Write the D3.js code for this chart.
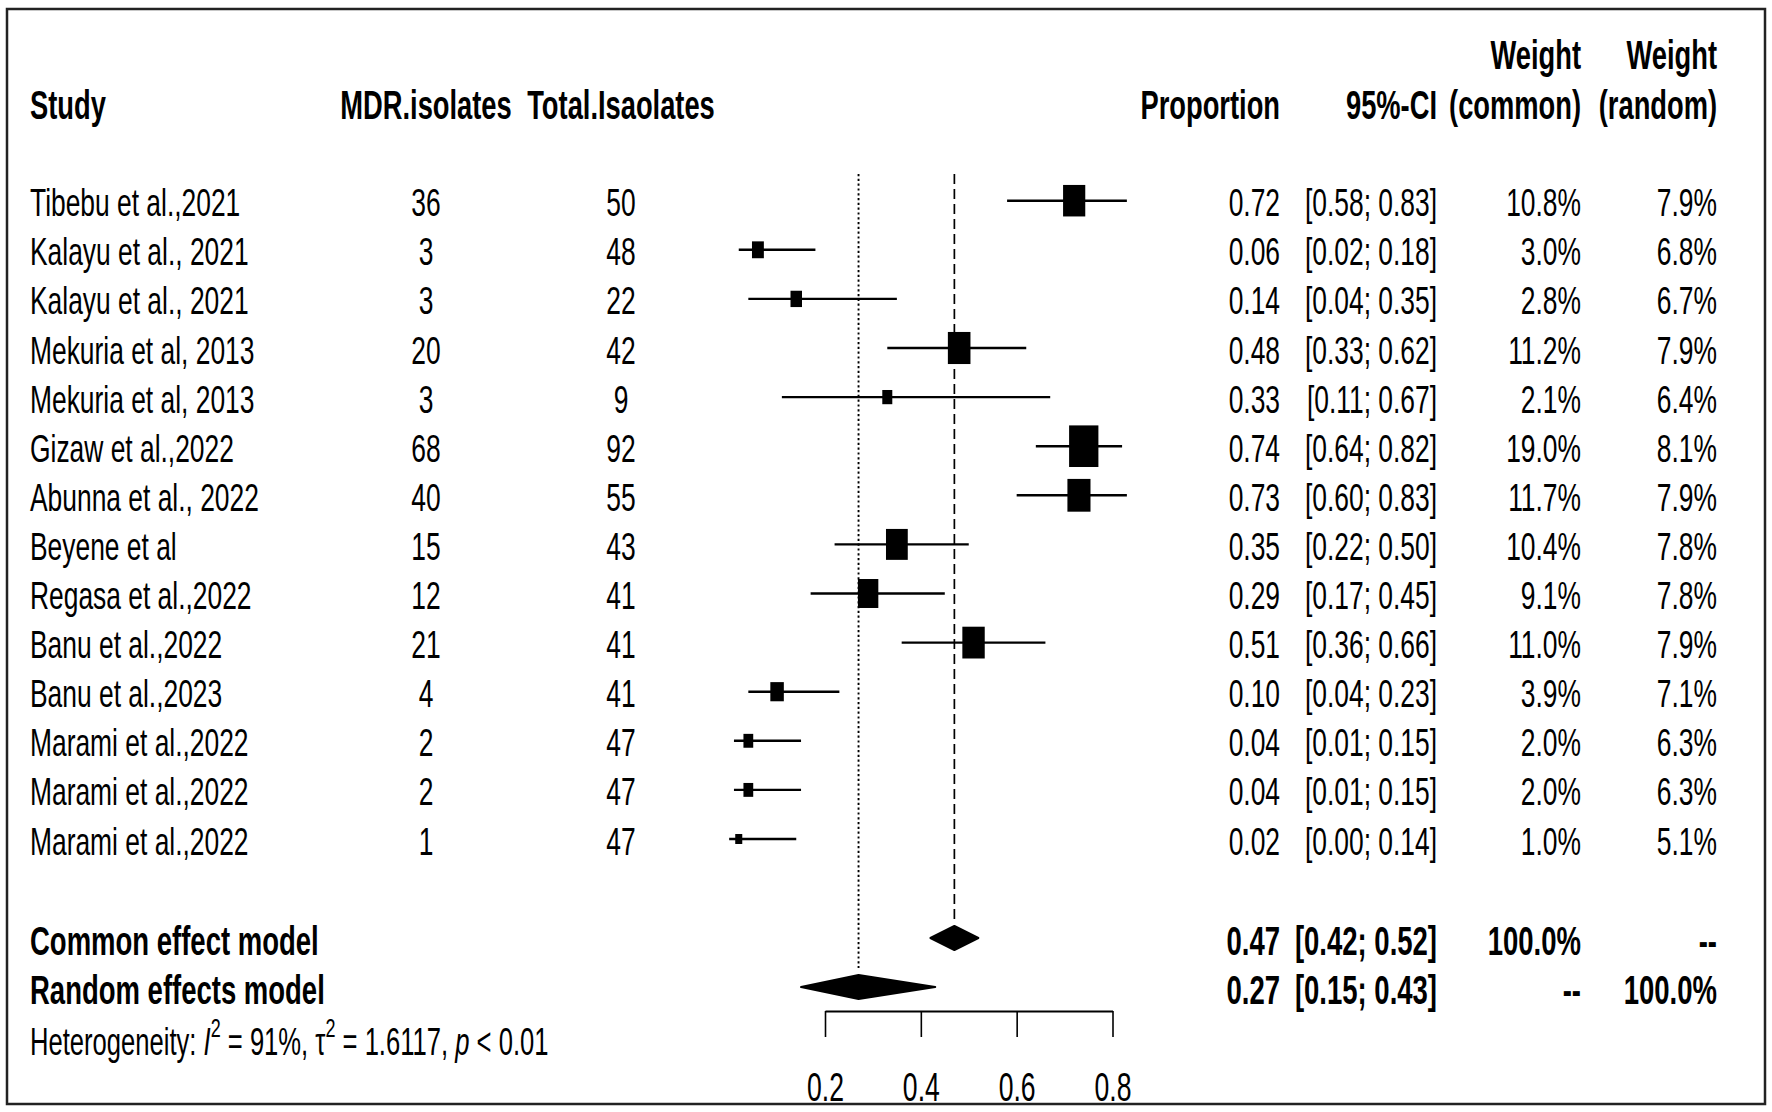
<!DOCTYPE html>
<html>
<head>
<meta charset="utf-8">
<script src="https://cdn.jsdelivr.net/npm/d3@7"></script>
<style>
  html, body { margin: 0; padding: 0; background: #fff; }
  svg { display: block; }
  text { font-family: "Liberation Sans", Arial, sans-serif; fill: #000; }
</style>
</head>
<body>
<svg id="chart" width="1772" height="1112"></svg>
<script>
// study-level data
const studies = [
    "Tibebu et al.,2021", "Kalayu et al., 2021", "Kalayu et al., 2021",
    "Mekuria et al, 2013", "Mekuria et al, 2013", "Gizaw et al.,2022",
    "Abunna et al., 2022", "Beyene et al", "Regasa et al.,2022",
    "Banu et al.,2022", "Banu et al.,2023", "Marami et al.,2022",
    "Marami et al.,2022", "Marami et al.,2022"
];
const mdrIsolates = [36, 3, 3, 20, 3, 68, 40, 15, 12, 21, 4, 2, 2, 1];
const totalIsolates = [50, 48, 22, 42, 9, 92, 55, 43, 41, 41, 41, 47, 47, 47];
const proportion = [0.72, 0.06, 0.14, 0.48, 0.33, 0.74, 0.73, 0.35, 0.29, 0.51, 0.10, 0.04, 0.04, 0.02];
const ciLower = [0.58, 0.02, 0.04, 0.33, 0.11, 0.64, 0.60, 0.22, 0.17, 0.36, 0.04, 0.01, 0.01, 0.00];
const ciUpper = [0.83, 0.18, 0.35, 0.62, 0.67, 0.82, 0.83, 0.50, 0.45, 0.66, 0.23, 0.15, 0.15, 0.14];
const weightCommon = [10.8, 3.0, 2.8, 11.2, 2.1, 19.0, 11.7, 10.4, 9.1, 11.0, 3.9, 2.0, 2.0, 1.0];
const weightRandom = [7.9, 6.8, 6.7, 7.9, 6.4, 8.1, 7.9, 7.8, 7.8, 7.9, 7.1, 6.3, 6.3, 5.1];

// pooled estimates
const models = ["Common effect model", "Random effects model"];
const modelEst = [0.47, 0.27];
const modelLower = [0.42, 0.15];
const modelUpper = [0.52, 0.43];
const modelWeightCommon = ["100.0%", "--"];
const modelWeightRandom = ["--", "100.0%"];

const headerTop = ["", "", "", "", "", "Weight", "Weight"];
const headerBottom = ["Study", "MDR.isolates", "Total.Isaolates", "Proportion", "95%-CI", "(common)", "(random)"];
const axisTicks = [0.2, 0.4, 0.6, 0.8];

const svg = d3.select("#chart");

const FS = 26.4;     // text is horizontally narrow in the original
const SY = 1.48;     // ... and stretched vertically

// column anchors
const colStudy = 30, colMdr = 426, colTotal = 621;
const colProp = 1280, colCI = 1437, colWC = 1581, colWR = 1717;
const headerX = [colStudy, colMdr, colTotal, colProp, colCI, colWC, colWR];
const headerAnchor = ["start", "middle", "middle", "end", "end", "end", "end"];

const x = d3.scaleLinear().domain([0.2, 0.8]).range([825, 1112.5]);
const y = d3.scaleLinear().domain([0, 13]).range([200.7, 839]);
const yModel = i => y(15 + i) + 0.8;

const fmt2 = d3.format(".2f");
const fmtPct = d => d3.format(".1f")(d) + "%";
const ciText = (l, u) => "[" + fmt2(l) + "; " + fmt2(u) + "]";

function label(g, px, py, s, anchor, bold, size, sy) {
    return g.append("text")
        .attr("transform", `translate(${px},${py}) scale(1,${sy || SY})`)
        .attr("text-anchor", anchor || "start")
        .attr("font-size", size || FS)
        .attr("font-weight", bold ? "bold" : "normal")
        .text(s);
}

// headers
const head = svg.append("g");
headerTop.forEach((s, i) => {
    if (s) label(head, headerX[i], 69, s, headerAnchor[i], true, 27.3);
});
headerBottom.forEach((s, i) => {
    label(head, headerX[i], 119, s, headerAnchor[i], true, 27.3);
});

// reference lines
svg.append("line")
    .attr("x1", x(modelEst[1])).attr("x2", x(modelEst[1]))
    .attr("y1", 174).attr("y2", 968)
    .attr("stroke", "#000").attr("stroke-width", 1.9)
    .attr("stroke-dasharray", "2.2,2.6");
svg.append("line")
    .attr("x1", x(modelEst[0])).attr("x2", x(modelEst[0]))
    .attr("y1", 174).attr("y2", 920)
    .attr("stroke", "#000").attr("stroke-width", 1.7)
    .attr("stroke-dasharray", "10,5");

// study rows
const rows = svg.append("g");
studies.forEach((s, i) => {
    const ty = y(i) + 15.5;
    label(rows, colStudy, ty, s, "start");
    label(rows, colMdr, ty, mdrIsolates[i], "middle");
    label(rows, colTotal, ty, totalIsolates[i], "middle");
    label(rows, colProp, ty, fmt2(proportion[i]), "end");
    label(rows, colCI, ty, ciText(ciLower[i], ciUpper[i]), "end");
    label(rows, colWC, ty, fmtPct(weightCommon[i]), "end");
    label(rows, colWR, ty, fmtPct(weightRandom[i]), "end");
});

rows.selectAll("line.ci")
    .data(proportion)
    .join("line")
    .attr("class", "ci")
    .attr("x1", (d, i) => x(ciLower[i]))
    .attr("x2", (d, i) => x(ciUpper[i]))
    .attr("y1", (d, i) => y(i))
    .attr("y2", (d, i) => y(i))
    .attr("stroke", "#000")
    .attr("stroke-width", 2.4);

const boxW = w => 6.63 * Math.sqrt(w) + 0.4;
rows.selectAll("rect.box")
    .data(proportion)
    .join("rect")
    .attr("class", "box")
    .attr("x", (d, i) => x(d) - boxW(weightCommon[i]) / 2)
    .attr("y", (d, i) => y(i) - boxW(weightCommon[i]) * 1.42 / 2)
    .attr("width", (d, i) => boxW(weightCommon[i]))
    .attr("height", (d, i) => boxW(weightCommon[i]) * 1.42)
    .attr("fill", "#000");

// pooled rows
const pooled = svg.append("g");
models.forEach((m, i) => {
    const cy = yModel(i);
    const ty = cy + 16.5;
    label(pooled, colStudy, ty, m, "start", true, 27.5);
    label(pooled, colProp, ty, fmt2(modelEst[i]), "end", true, 27.5);
    label(pooled, colCI, ty, ciText(modelLower[i], modelUpper[i]), "end", true, 27.5);
    label(pooled, colWC, ty, modelWeightCommon[i], "end", true, 27.5);
    label(pooled, colWR, ty, modelWeightRandom[i], "end", true, 27.5);
    const hh = 12;
    pooled.append("path")
        .attr("d", `M${x(modelLower[i])},${cy}L${x(modelEst[i])},${cy - hh}L${x(modelUpper[i])},${cy}L${x(modelEst[i])},${cy + hh}Z`)
        .attr("fill", "#000")
        .attr("stroke", "#000")
        .attr("stroke-width", 2)
        .attr("stroke-linejoin", "round");
});

// heterogeneity
const het = svg.append("text")
    .attr("transform", `translate(${colStudy},1055) scale(1,${SY})`)
    .attr("font-size", 25.6);
het.append("tspan").text("Heterogeneity: ");
het.append("tspan").attr("font-style", "italic").text("I");
het.append("tspan").attr("font-size", 18).attr("dy", -12).text("2");
het.append("tspan").attr("dy", 12).text(" = 91%, \u03C4");
het.append("tspan").attr("font-size", 18).attr("dy", -12).text("2");
het.append("tspan").attr("dy", 12).text(" = 1.6117, ");
het.append("tspan").attr("font-style", "italic").text("p");
het.append("tspan").text(" < 0.01");

// x axis
const axisG = svg.append("g")
    .attr("transform", "translate(0,1011)")
    .call(d3.axisBottom(x).tickValues(axisTicks).tickSize(26).tickSizeOuter(0).tickFormat(d3.format(".1f")));
axisG.select(".domain").attr("stroke", "#000").attr("stroke-width", 2);
axisG.selectAll(".tick line").attr("stroke", "#000").attr("stroke-width", 1.6);
axisG.selectAll(".tick text")
    .attr("y", null).attr("dy", null)
    .attr("transform", `translate(0,90) scale(1,1.5)`)
    .attr("font-size", 26.6)
    .attr("font-family", '"Liberation Sans", Arial, sans-serif')
    .attr("fill", "#000");

// frame
svg.append("rect")
    .attr("x", 7).attr("y", 9).attr("width", 1758).attr("height", 1095)
    .attr("fill", "none").attr("stroke", "#222").attr("stroke-width", 2.5);
</script>
</body>
</html>
